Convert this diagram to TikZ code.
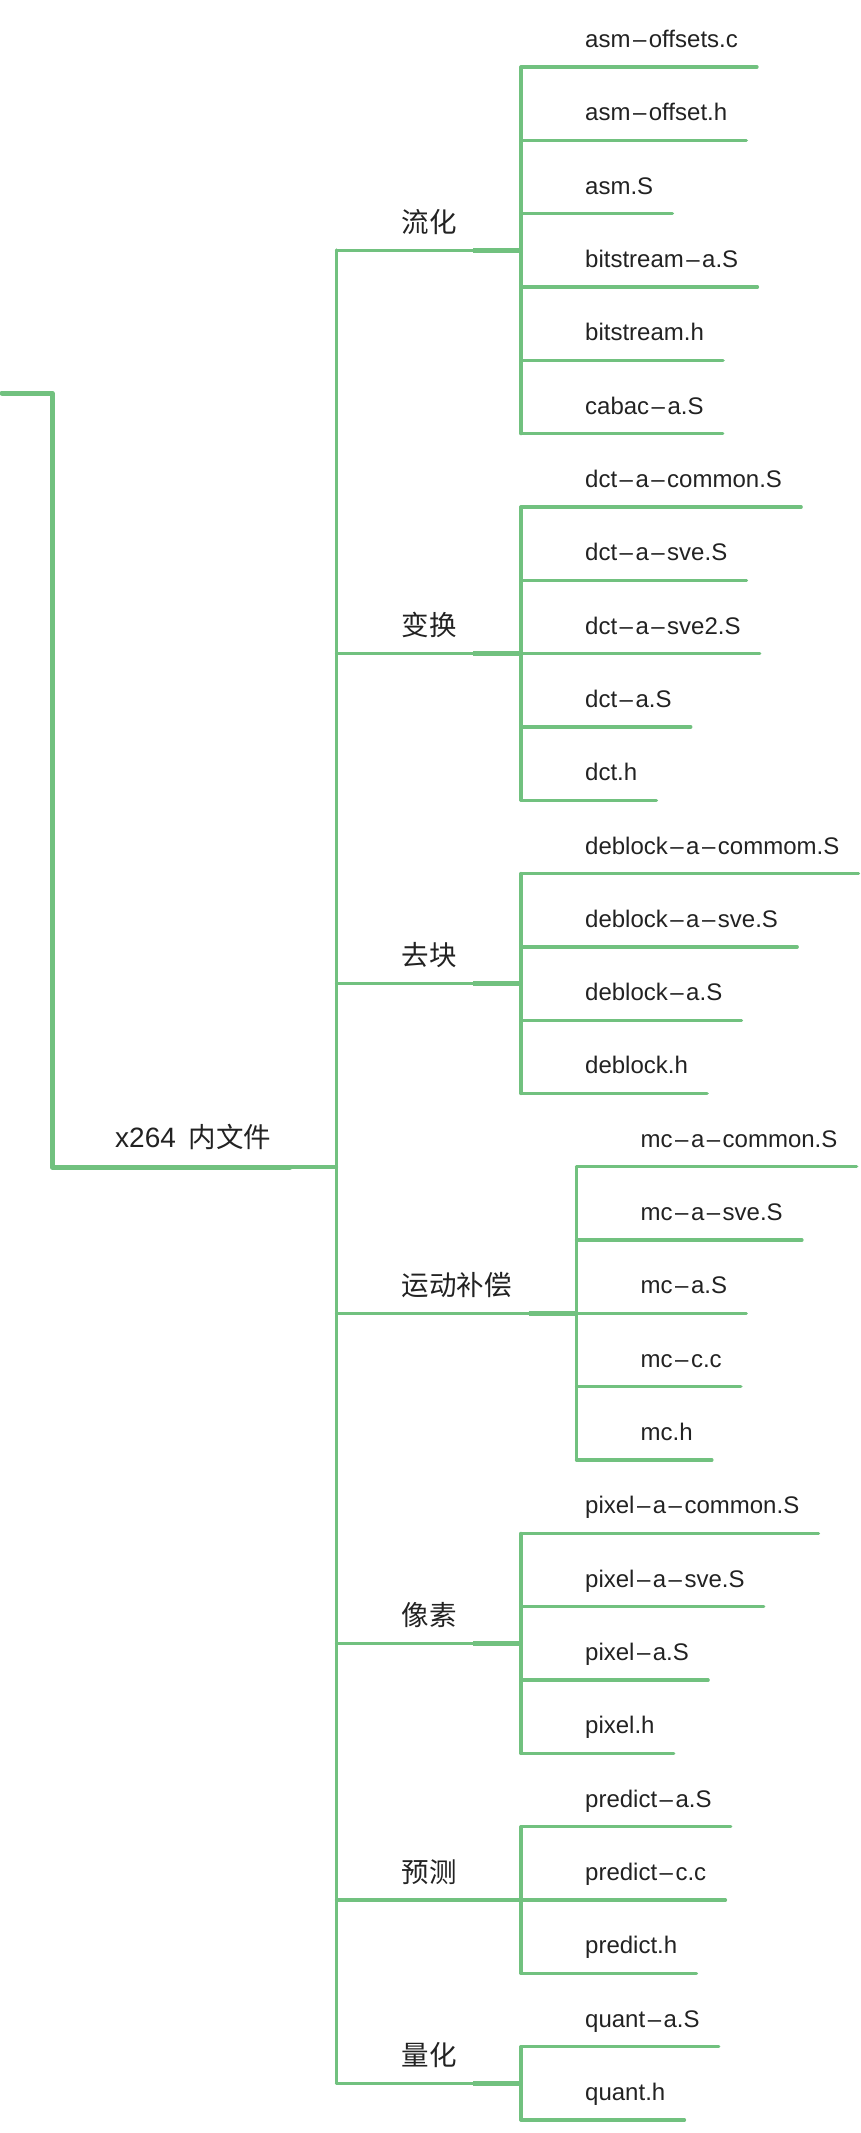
\documentclass[tikz,border=0pt]{standalone}
\usepackage{fontspec}
\setmainfont{Liberation Sans}
\newfontfamily\cjk{Noto Sans CJK SC}
\usetikzlibrary{calc}

\definecolor{branchgreen}{RGB}{113,193,127}
\definecolor{inkgrey}{RGB}{34,34,34}
\newcommand\fd{\kern2.5pt–\kern2.5pt}
\tikzset{
  branch/.style={draw=branchgreen, line width=3.3pt, line cap=round},
  joint/.style={draw=branchgreen, line width=4.4pt},
  rootline/.style={draw=branchgreen, line width=5pt, line cap=round, line join=round},
  leaf/.style={anchor=base west, inner sep=0pt, text=inkgrey, font=\fontsize{24}{28}\selectfont},
  cat/.style={anchor=base west, inner sep=0pt, text=inkgrey, font=\cjk\fontsize{27.5}{32}\selectfont},
}

\begin{document}
\begin{tikzpicture}[x=1pt,y=-1pt]
  \useasboundingbox (0,0) rectangle (860,2133);

  % root
  \coordinate (in) at (2,393);
  \coordinate (trunk) at (336.5,1167);
  \node[cat, font=\fontsize{28}{32}\selectfont] (root) at (115,1147) {x264\hspace{5pt} {\cjk\fontsize{27.5}{32}\selectfont 内文件}};
  \draw[rootline] (in) -- (52,393) -- (52,1167) -- (290,1167);
  \draw[branch] (290,1167) -- (trunk);
  \draw[branch] (336.5,250) -- (336.5,2083.3);

  % categories: name / bar x / first leaf / last leaf
  \foreach \c/\bx/\ia/\ib [count=\j] in {流化/521/0/5, 变换/521/6/10, 去块/521/11/14,
      运动补偿/576.5/15/19, 像素/521/20/23, 预测/521/24/26, 量化/521/27/28} {
    \pgfmathsetmacro{\ym}{67+73.32*(\ia+\ib)/2}
    \node[cat] (cat\j) at (401.5,\ym-18) {\c};
    \coordinate (bar\j) at (\bx,\ym);
    \draw[branch] (336.5,\ym) -- (bar\j);
    \draw[joint] ($(bar\j)+(-48,0)$) -- (bar\j);
    \draw[branch] (\bx,67+73.32*\ia) -- (\bx,67+73.32*\ib);
  }

  % files: name / bar x
  \foreach \f/\bx [count=\k from 0] in {asm\fd offsets.c/521, asm\fd offset.h/521, asm.S/521,
      bitstream\fd a.S/521, bitstream.h/521, cabac\fd a.S/521,
      dct\fd a\fd common.S/521, dct\fd a\fd sve.S/521, dct\fd a\fd sve2.S/521, dct\fd a.S/521, dct.h/521,
      deblock\fd a\fd commom.S/521, deblock\fd a\fd sve.S/521, deblock\fd a.S/521, deblock.h/521,
      mc\fd a\fd common.S/576.5, mc\fd a\fd sve.S/576.5, mc\fd a.S/576.5, mc\fd c.c/576.5, mc.h/576.5,
      pixel\fd a\fd common.S/521, pixel\fd a\fd sve.S/521, pixel\fd a.S/521, pixel.h/521,
      predict\fd a.S/521, predict\fd c.c/521, predict.h/521,
      quant\fd a.S/521, quant.h/521} {
    \coordinate (b\k) at (\bx,67+73.32*\k);
    \node[leaf] (leaf\k) at ($(b\k)+(64,-19.5)$) {\f};
    \draw[branch] (b\k) -- ($(leaf\k.base east)+(19,19.5)$);
  }
\end{tikzpicture}
\end{document}
